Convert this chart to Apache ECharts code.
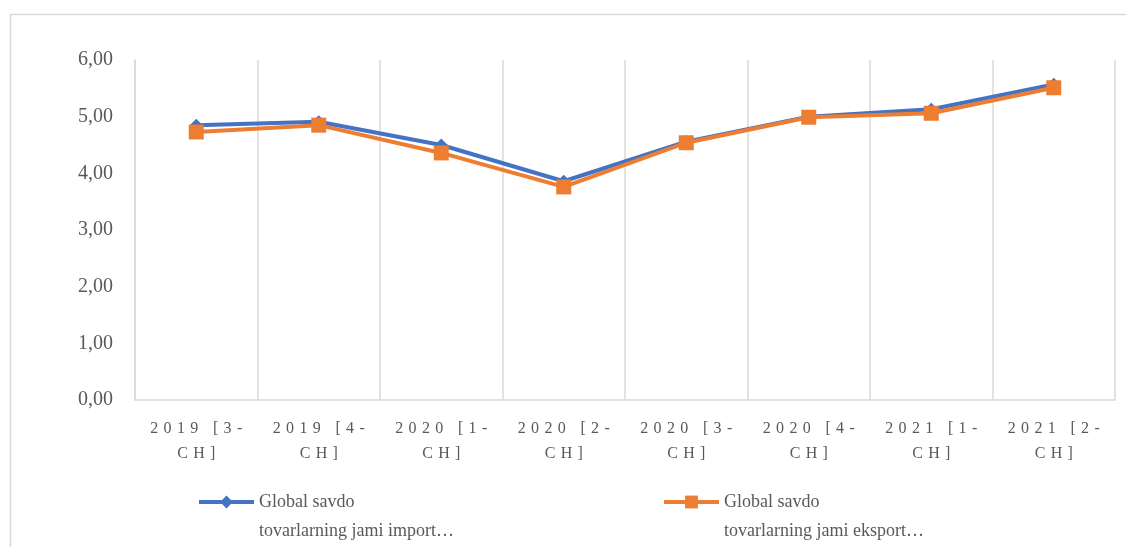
<!DOCTYPE html>
<html>
<head>
<meta charset="utf-8">
<script src="https://cdn.jsdelivr.net/npm/echarts@6/dist/echarts.min.js"></script>
<style>
  html, body { margin: 0; padding: 0; background: #fff; }
  #chart { width: 1126px; height: 547px; }
</style>
</head>
<body>
<div id="chart"></div>
<script>
const categories = ['2019 [3-CH]', '2019 [4-CH]', '2020 [1-CH]', '2020 [2-CH]', '2020 [3-CH]', '2020 [4-CH]', '2021 [1-CH]', '2021 [2-CH]'];
const importValues = [4.85, 4.91, 4.50, 3.86, 4.56, 5.00, 5.13, 5.57];
const exportValues = [4.73, 4.85, 4.36, 3.76, 4.54, 4.99, 5.06, 5.51];
const importName = 'Global savdo tovarlarning jami import…';
const exportName = 'Global savdo tovarlarning jami eksport…';
const yTicks = { min: 0, max: 6, interval: 1 };

const FONT = '"Liberation Serif", "Times New Roman", serif';
const TXT = '#595959';
const GRID = '#d9d9d9';
const BLUE = '#4472C4';
const ORANGE = '#ED7D31';

function spaced(s) { return s.split('').join('\u2004'); }
function xLabel(v) {
  const i = v.indexOf('-');
  return spaced(v.slice(0, i + 1)) + '\n' + spaced(v.slice(i + 1));
}
function legendLabel(name) {
  const i = name.indexOf('savdo') + 5;
  return '{e| }\n{t|' + name.slice(0, i) + '}\n{t|' + name.slice(i + 1) + '}';
}
const legendText = {
  fontFamily: FONT, fontSize: 18, color: TXT,
  rich: {
    e: { fontFamily: FONT, fontSize: 18, lineHeight: 29 },
    t: { fontFamily: FONT, fontSize: 18, color: TXT, lineHeight: 29 }
  }
};
function makeLegend(name, left) {
  return {
    data: [name], left: left, top: 464, padding: 0,
    itemWidth: 55, itemHeight: 16, itemGap: 0,
    formatter: legendLabel,
    lineStyle: { width: 4 },
    textStyle: legendText
  };
}

const chart = echarts.init(document.getElementById('chart'));
chart.setOption({
  animation: false,
  backgroundColor: '#fff',
  graphic: [{
    type: 'rect', left: 8, top: 12,
    shape: { width: 1140, height: 600 },
    style: { fill: 'none', stroke: GRID, lineWidth: 1.5 },
    z: -1
  }],
  grid: { left: 135, right: 11, top: 60, bottom: 147 },
  legend: [makeLegend(importName, 197), makeLegend(exportName, 662)],
  xAxis: {
    type: 'category',
    data: categories,
    boundaryGap: true,
    axisLine: { show: true, lineStyle: { color: GRID, width: 1.5 } },
    axisTick: { show: false },
    splitLine: { show: true, lineStyle: { color: GRID, width: 1.5 } },
    axisLabel: {
      interval: 0, formatter: xLabel, margin: 16,
      fontFamily: FONT, fontSize: 16, color: TXT, lineHeight: 25
    }
  },
  yAxis: {
    type: 'value',
    min: yTicks.min, max: yTicks.max, interval: yTicks.interval,
    axisLine: { show: true, lineStyle: { color: GRID, width: 1.5 } },
    axisTick: { show: false },
    splitLine: { show: false },
    axisLabel: {
      margin: 22, fontFamily: FONT, fontSize: 20, color: TXT,
      formatter: v => v.toFixed(2).replace('.', ',')
    }
  },
  series: [{
    name: importName, type: 'line', data: importValues,
    symbol: 'diamond', symbolSize: 13,
    lineStyle: { color: BLUE, width: 4 },
    itemStyle: { color: BLUE }
  }, {
    name: exportName, type: 'line', data: exportValues,
    symbol: 'rect', symbolSize: 15,
    lineStyle: { color: ORANGE, width: 4 },
    itemStyle: { color: ORANGE }
  }]
});
</script>
</body>
</html>
